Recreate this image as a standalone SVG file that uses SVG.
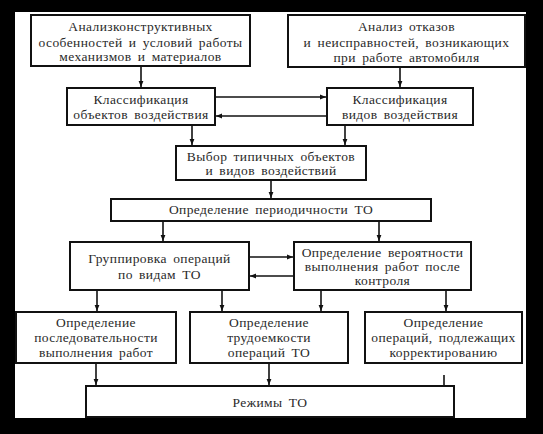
<svg xmlns="http://www.w3.org/2000/svg" width="543" height="434" viewBox="0 0 543 434">
<style>
.bg{fill:#000}
.sheet{fill:#fff}
.box{fill:#fff;stroke:#111;stroke-width:2}
.t{font-family:"Liberation Serif","DejaVu Serif","Times New Roman",serif;font-size:13.5px;fill:#2a2a2a;text-anchor:middle;letter-spacing:0.4px;word-spacing:2.5px}
.c{stroke:#111;stroke-width:1.6;fill:none;marker-end:url(#ah)}
.c2{stroke:#111;stroke-width:1.6;fill:none}
</style>
<defs>
<marker id="ah" viewBox="0 0 10 10" refX="10" refY="5" markerWidth="6" markerHeight="6" markerUnits="userSpaceOnUse" orient="auto">
<path d="M0,1 L10,5 L0,9 Z" fill="#111"/>
</marker>
</defs>
<rect class="bg" x="0" y="0" width="543" height="434"/>
<rect class="sheet" x="15" y="12" width="511" height="406"/>

<g id="connectors">
<line class="c" x1="141" y1="66" x2="141" y2="87"/>
<line class="c" x1="400" y1="67" x2="400" y2="87"/>
<line class="c" x1="215" y1="97" x2="326" y2="97"/>
<line class="c" x1="327" y1="116" x2="216" y2="116"/>
<line class="c" x1="192" y1="125" x2="192" y2="145"/>
<line class="c" x1="345" y1="125" x2="345" y2="145"/>
<line class="c" x1="271" y1="180" x2="271" y2="198"/>
<line class="c" x1="163" y1="221" x2="163" y2="241"/>
<line class="c" x1="379" y1="221" x2="379" y2="241"/>
<line class="c" x1="249" y1="257" x2="293" y2="257"/>
<line class="c" x1="294" y1="276" x2="250" y2="276"/>
<line class="c" x1="97" y1="290" x2="97" y2="311"/>
<line class="c" x1="222" y1="290" x2="222" y2="311"/>
<line class="c" x1="321" y1="290" x2="321" y2="311"/>
<line class="c" x1="446" y1="290" x2="446" y2="311"/>
<line class="c" x1="96" y1="363" x2="96" y2="385"/>
<line class="c" x1="269" y1="363" x2="269" y2="385"/>
<line class="c2" x1="444" y1="375" x2="444" y2="386"/>
</g>

<g id="n1">
<rect class="box" x="31" y="15" width="219" height="51"/>
<text class="t" x="140.5" y="31">Анализконструктивных</text>
<text class="t" x="140.5" y="47">особенностей и условий работы</text>
<text class="t" x="140.5" y="61">механизмов и материалов</text>
</g>
<g id="n2">
<rect class="box" x="288" y="15" width="237" height="52"/>
<text class="t" x="406.5" y="31">Анализ отказов</text>
<text class="t" x="406.5" y="47">и неисправностей, возникающих</text>
<text class="t" x="406.5" y="62">при работе автомобиля</text>
</g>
<g id="n3">
<rect class="box" x="67" y="88" width="148" height="37"/>
<text class="t" x="141" y="104">Классификация</text>
<text class="t" x="141" y="119">объектов воздействия</text>
</g>
<g id="n4">
<rect class="box" x="327" y="88" width="146" height="37"/>
<text class="t" x="400" y="104">Классификация</text>
<text class="t" x="400" y="119">видов воздействия</text>
</g>
<g id="n5">
<rect class="box" x="176" y="146" width="190" height="34"/>
<text class="t" x="271" y="161">Выбор типичных объектов</text>
<text class="t" x="271" y="175">и видов воздействий</text>
</g>
<g id="n6">
<rect class="box" x="111" y="199" width="320" height="22"/>
<text class="t" x="271" y="214">Определение периодичности ТО</text>
</g>
<g id="n7">
<rect class="box" x="70" y="242" width="179" height="48"/>
<text class="t" x="159.5" y="263">Группировка операций</text>
<text class="t" x="159.5" y="279">по видам ТО</text>
</g>
<g id="n8">
<rect class="box" x="294" y="242" width="177" height="48"/>
<text class="t" x="382.5" y="257">Определение вероятности</text>
<text class="t" x="382.5" y="271">выполнения работ после</text>
<text class="t" x="382.5" y="285">контроля</text>
</g>
<g id="n9">
<rect class="box" x="16" y="312" width="160" height="51"/>
<text class="t" x="96" y="327">Определение</text>
<text class="t" x="96" y="342">последовательности</text>
<text class="t" x="96" y="357">выполнения работ</text>
</g>
<g id="n10">
<rect class="box" x="190" y="312" width="158" height="51"/>
<text class="t" x="269" y="327">Определение</text>
<text class="t" x="269" y="342">трудоемкости</text>
<text class="t" x="269" y="357">операций ТО</text>
</g>
<g id="n11">
<rect class="box" x="365" y="312" width="157" height="51"/>
<text class="t" x="443.5" y="327">Определение</text>
<text class="t" x="443.5" y="342">операций, подлежащих</text>
<text class="t" x="443.5" y="357">корректированию</text>
</g>
<g id="n12">
<rect class="box" x="86" y="386" width="368" height="31"/>
<text class="t" x="270" y="407">Режимы ТО</text>
</g>
</svg>
